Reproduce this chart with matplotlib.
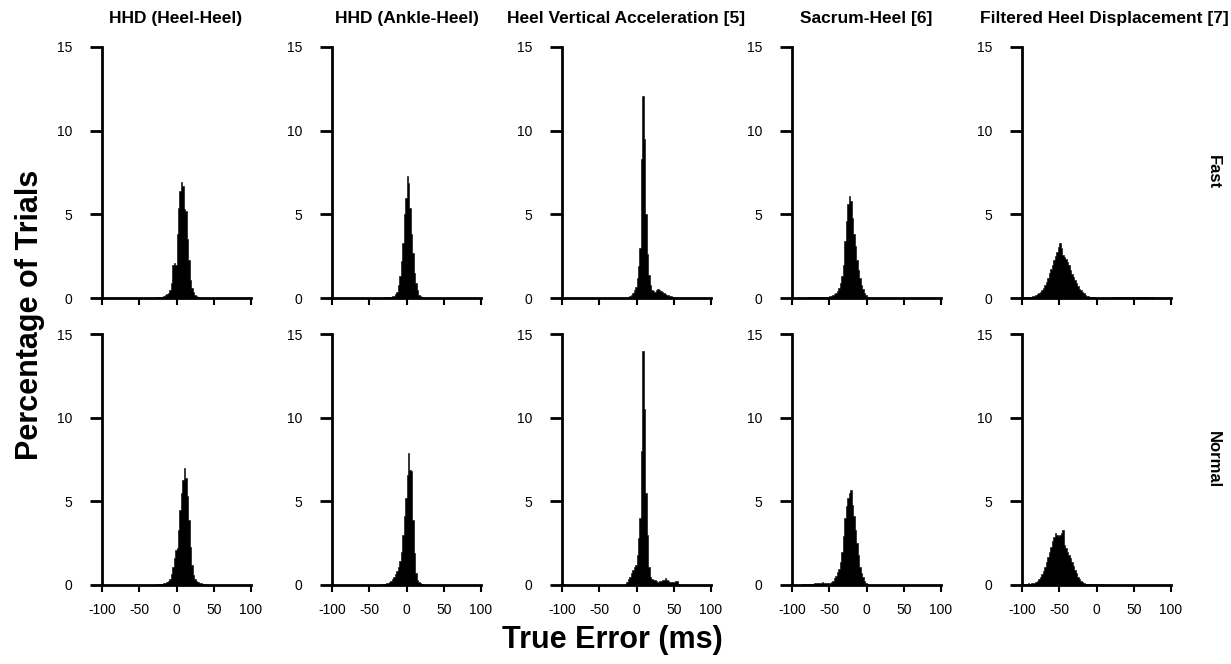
import numpy as np
import matplotlib
matplotlib.use("Agg")
import matplotlib.pyplot as plt

plt.rcParams['font.family'] = ['Liberation Sans', 'DejaVu Sans']
plt.rcParams['axes.unicode_minus'] = False

# column titles and row labels
methods = ['HHD (Heel-Heel)', 'HHD (Ankle-Heel)', 'Heel Vertical Acceleration [5]',
           'Sacrum-Heel [6]', 'Filtered Heel Displacement [7]']
speeds = ['Fast', 'Normal']

bin_width = 2  # ms
x_ticks = [-100, -50, 0, 50, 100]
y_ticks = [0, 5, 10, 15]

# percentage of trials per 2 ms bin, each list starts at the given error (ms)
hh_fast_start = -30
hh_fast = [0.02, 0.03, 0.04, 0.08, 0.06, 0.08, 0.12, 0.18, 0.24, 0.3, 0.5, 0.9,
           2.0, 2.1, 2.0, 3.8, 5.4, 6.4, 6.95, 6.7, 5.3, 5.2, 3.5, 2.3, 1.1, 0.6,
           0.34, 0.2, 0.1, 0.06, 0.03]

ah_fast_start = -30
ah_fast = [0.04, 0.05, 0.06, 0.07, 0.08, 0.1, 0.14, 0.22, 0.34, 0.8, 1.3, 2.2,
           3.3, 5.0, 6.0, 7.3, 6.9, 5.4, 3.8, 2.7, 1.5, 0.9, 0.45, 0.2, 0.12,
           0.05, 0.03]

hva_fast_start = -10
hva_fast = [0.1, 0.15, 0.3, 0.46, 0.66, 1.2, 1.9, 3.0, 8.3, 12.1, 9.5, 5.0,
            2.6, 1.4, 0.8, 0.45, 0.4, 0.36, 0.45, 0.56, 0.5, 0.42, 0.35, 0.28,
            0.22, 0.18, 0.15, 0.12, 0.1, 0.06, 0.04]

sh_fast_start = -80
sh_fast = [0.02, 0.03, 0.04, 0.03, 0.05, 0.04, 0.03, 0.05, 0.04, 0.06, 0.05,
           0.06, 0.05, 0.07, 0.08, 0.1, 0.12, 0.16, 0.22, 0.3, 0.4, 0.6, 0.9,
           1.3, 2.0, 3.4, 4.6, 5.6, 6.1, 5.8, 4.8, 3.8, 3.1, 2.3, 1.7, 1.2, 0.8,
           0.55, 0.3, 0.15, 0.06, 0.03]

fhd_fast_start = -100
fhd_fast = [0.03, 0.04, 0.04, 0.05, 0.06, 0.07, 0.08, 0.1, 0.13, 0.18, 0.22,
            0.28, 0.35, 0.45, 0.6, 0.75, 0.95, 1.2, 1.5, 1.75, 2.0, 2.25, 2.5,
            2.75, 3.05, 3.3, 3.0, 2.55, 2.45, 2.35, 2.15, 1.95, 1.7, 1.45, 1.25,
            1.05, 0.9, 0.7, 0.55, 0.45, 0.35, 0.28, 0.2, 0.14, 0.09, 0.06, 0.04,
            0.03, 0.03, 0.02, 0.02, 0.02, 0.02, 0.02, 0.02, 0.02, 0.02, 0.02,
            0.02, 0.02, 0.03, 0.03, 0.03, 0.04, 0.05, 0.04, 0.03, 0.04, 0.05,
            0.04, 0.06, 0.05, 0.08, 0.05, 0.04, 0.06, 0.05, 0.07, 0.05, 0.04,
            0.05, 0.04, 0.03, 0.04, 0.03, 0.03, 0.02, 0.03, 0.02, 0.02, 0.02,
            0.02, 0.02, 0.02, 0.02, 0.02, 0.02, 0.02, 0.02, 0.02]

hh_norm_start = -30
hh_norm = [0.02, 0.03, 0.04, 0.05, 0.06, 0.08, 0.1, 0.12, 0.16, 0.22, 0.35,
           0.65, 1.1, 1.6, 2.1, 2.2, 3.3, 4.5, 5.5, 6.3, 7.0, 6.4, 5.3, 3.9, 2.3,
           1.2, 0.6, 0.36, 0.22, 0.16, 0.12, 0.1, 0.07, 0.05, 0.04, 0.02]

ah_norm_start = -34
ah_norm = [0.03, 0.05, 0.06, 0.1, 0.12, 0.18, 0.26, 0.36, 0.5, 0.66, 0.85, 1.1,
           1.45, 2.0, 3.0, 4.1, 5.2, 6.6, 7.9, 6.9, 6.8, 3.9, 1.9, 0.7, 0.3,
           0.16, 0.1, 0.06, 0.04, 0.02]

hva_norm_start = -100
hva_norm = [0.06, 0.04, 0, 0, 0, 0, 0, 0, 0, 0, 0, 0, 0, 0, 0, 0, 0, 0, 0, 0,
            0, 0, 0, 0, 0, 0, 0, 0, 0, 0, 0, 0, 0, 0, 0, 0, 0, 0, 0, 0, 0, 0,
            0.05, 0.15, 0.35, 0.5, 0.7, 0.9, 1.05, 1.2, 1.8, 2.8, 4.0, 8.0, 14.0,
            10.5, 5.5, 3.0, 1.1, 0.5, 0.35, 0.3, 0.28, 0.22, 0.2, 0.25, 0.22,
            0.28, 0.3, 0.4, 0.3, 0.22, 0.18, 0.2, 0.15, 0.2, 0.24, 0.22, 0.05]

sh_norm_start = -86
sh_norm = [0.04, 0.05, 0.06, 0.05, 0.07, 0.08, 0.06, 0.08, 0.1, 0.09, 0.12,
           0.1, 0.14, 0.16, 0.12, 0.1, 0.12, 0.1, 0.14, 0.16, 0.25, 0.4, 0.56,
           0.75, 0.95, 1.4, 2.0, 2.9, 4.0, 4.7, 5.2, 5.5, 5.7, 4.8, 4.1, 3.3, 2.5,
           1.8, 1.1, 0.7, 0.45, 0.25, 0.12, 0.04]

fhd_norm_start = -100
fhd_norm = [0.06, 0.05, 0.07, 0.06, 0.1, 0.08, 0.12, 0.1, 0.14, 0.18, 0.25,
            0.35, 0.46, 0.65, 0.85, 1.1, 1.4, 1.7, 2.0, 2.3, 2.6, 2.85, 3.1, 3.0,
            2.9, 3.0, 3.1, 3.3, 2.4, 2.2, 1.95, 1.8, 1.6, 1.4, 1.15, 0.9, 0.7,
            0.5, 0.35, 0.22, 0.15, 0.1, 0.07, 0.06, 0.05, 0.04, 0.04, 0.03, 0.04,
            0.03, 0.03, 0.02, 0.03, 0.04, 0.06, 0.02]

data = [
    [(hh_fast_start, hh_fast), (ah_fast_start, ah_fast), (hva_fast_start, hva_fast),
     (sh_fast_start, sh_fast), (fhd_fast_start, fhd_fast)],
    [(hh_norm_start, hh_norm), (ah_norm_start, ah_norm), (hva_norm_start, hva_norm),
     (sh_norm_start, sh_norm), (fhd_norm_start, fhd_norm)],
]

W, H = 1231, 664
fig = plt.figure(figsize=(W / 100, H / 100), dpi=100)

# pixel layout of the panels
col_left = [102, 332, 562, 792, 1022]
panel_w = 149
row_bottom = [298, 585]
panel_h = 251

for r in range(2):
    for c in range(5):
        ax = fig.add_axes([col_left[c] / W, 1 - row_bottom[r] / H, panel_w / W, panel_h / H])
        start, vals = data[r][c]
        edges = start + bin_width * np.arange(len(vals) + 1)
        ax.stairs(vals, edges, fill=True, facecolor='black', edgecolor='black',
                  linewidth=0.4)
        ax.set_xlim(-100, 100)
        ax.set_ylim(0, 15)
        ax.set_xticks(x_ticks)
        ax.set_yticks(y_ticks)
        for s in ['top', 'right']:
            ax.spines[s].set_visible(False)
        for s in ['left', 'bottom']:
            ax.spines[s].set_linewidth(2)
            ax.spines[s].set_zorder(3)
        ax.tick_params(axis='y', length=8.6, width=2, pad=13, labelsize=10)
        ax.tick_params(axis='x', length=5, width=1.5, pad=8, labelsize=10,
                       labelbottom=(r == 1))

# column titles: centred on panels, the last one runs to the right edge
title_x = [176, 407, 626, 866]
for c, name in enumerate(methods[:4]):
    fig.text(title_x[c] / W, 1 - 18 / H, name, ha='center', va='center',
             fontsize=12.5, fontweight='bold')
fig.text(1229 / W, 1 - 18 / H, methods[4], ha='right', va='center',
         fontsize=12.5, fontweight='bold')

for r, name in enumerate(speeds):
    fig.text(1213 / W, 1 - (row_bottom[r] - panel_h / 2) / H, name, rotation=-90,
             ha='center', va='center', fontsize=12, fontweight='bold')

fig.text(30 / W, 1 - 315 / H, 'Percentage of Trials', rotation=90, ha='center',
         va='center', fontsize=22, fontweight='bold')
fig.text(612 / W, 1 - 640 / H, 'True Error (ms)', ha='center', va='center',
         fontsize=22, fontweight='bold')

fig.savefig('out.png', dpi=100)
